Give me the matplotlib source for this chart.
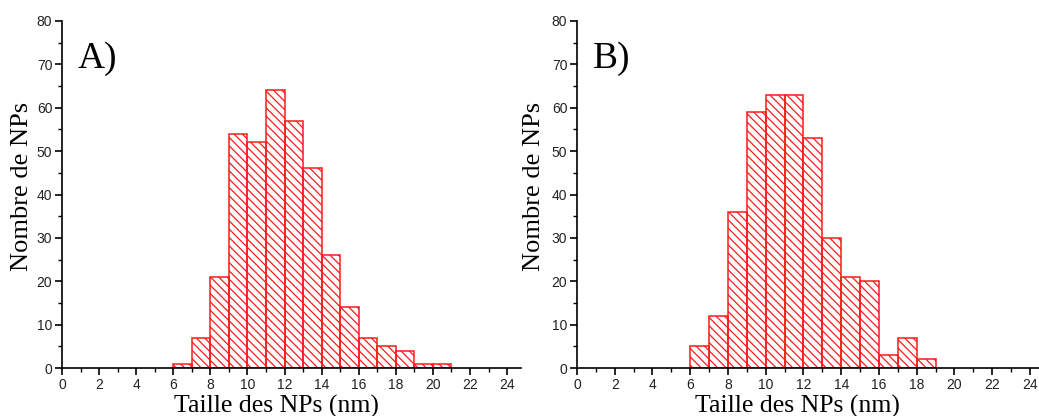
import numpy as np
from matplotlib import pyplot as plt

# bornes des classes (nm) et effectifs
bin_left = [6, 7, 8, 9, 10, 11, 12, 13, 14, 15, 16, 17, 18, 19, 20]
counts_a = [1, 7, 21, 54, 52, 64, 57, 46, 26, 14, 7, 5, 4, 1, 1]
bin_left_b = [6, 7, 8, 9, 10, 11, 12, 13, 14, 15, 16, 17, 18]
counts_b = [5, 12, 36, 59, 63, 63, 53, 30, 21, 20, 3, 7, 2]

xticks = list(range(0, 25, 2))
yticks = list(range(0, 81, 10))

plt.rcParams["hatch.linewidth"] = 0.9

fig = plt.figure(figsize=(10.39, 4.16), dpi=100)
W, H = 1039, 416


def draw_panel(ax, left, counts, label, xmax, xlab_x, ylab_x):
    ax.bar(left, counts, width=1, align="edge", fill=False,
           edgecolor="#ff1a1a", linewidth=1.1, hatch="\\\\\\\\")
    ax.set_xlim(0, xmax)
    ax.set_ylim(0, 80)
    ax.set_xticks(xticks)
    ax.set_xticks(range(1, 25, 2), minor=True)
    ax.set_yticks(yticks)
    ax.set_yticks(range(5, 80, 10), minor=True)
    for s in ["top", "right"]:
        ax.spines[s].set_visible(False)
    for s in ["left", "bottom"]:
        ax.spines[s].set_linewidth(1.2)
    ax.tick_params(which="major", direction="out", length=5, width=1.2,
                   labelsize=10, pad=2)
    ax.tick_params(which="minor", direction="out", length=3, width=1.0)
    for t in ax.get_xticklabels() + ax.get_yticklabels():
        t.set_family("Liberation Sans")
        t.set_color("#222222")
    ax.set_xlabel("Taille des NPs (nm)", family="Liberation Serif", fontsize=18.5)
    ax.set_ylabel("Nombre de NPs", family="Liberation Serif", fontsize=19)
    ax.xaxis.set_label_coords(xlab_x, -0.077)
    ax.yaxis.set_label_coords(ylab_x, 0.524)
    ax.text(0.035, 0.94, label, transform=ax.transAxes, family="Liberation Serif",
            fontsize=27, va="top", ha="left")


ax1 = fig.add_axes([62 / W, 1 - 368 / H, (521 - 62) / W, (368 - 21) / H])
draw_panel(ax1, bin_left, counts_a, "A)", 24.75, 0.468, -0.063)

ax2 = fig.add_axes([577 / W, 1 - 368 / H, (1039 - 577) / W, (368 - 21) / H])
draw_panel(ax2, bin_left_b, counts_b, "B)", 24.48, 0.478, -0.069)

plt.savefig("out.png", dpi=100)
plt.close()
